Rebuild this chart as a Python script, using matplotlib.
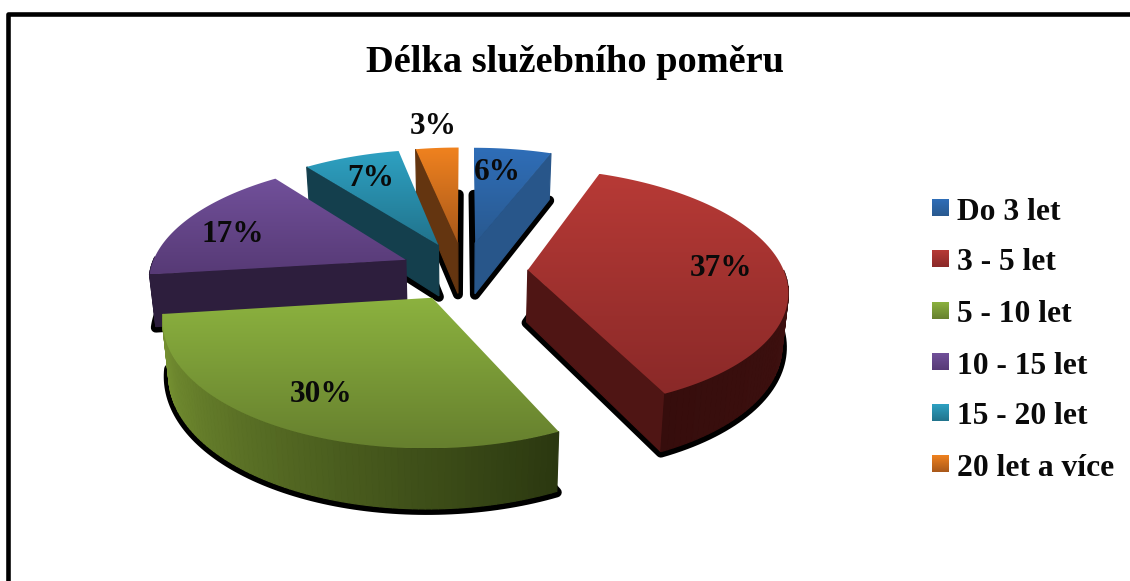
import numpy as np
import matplotlib
matplotlib.use("Agg")
import matplotlib.pyplot as plt
from matplotlib.colors import to_rgb
from matplotlib.patches import Polygon

plt.rcParams['font.family'] = ['Liberation Serif', 'DejaVu Serif']

# data
categories = ["Do 3 let", "3 - 5 let", "5 - 10 let", "10 - 15 let", "15 - 20 let", "20 let a více"]
values = [5.8, 37.2, 30, 16.6, 7.2, 3.2]
title = "Délka služebního poměru"

# colours: top gradient start/end, radial wall, rim wall start/end
TOP_HI = ["#2f6eb8", "#b73a36", "#8cb23f", "#71509a", "#2ea1c2", "#f0821f"]
TOP_LO = ["#29598f", "#8a2928", "#66802e", "#573a76", "#21738c", "#a8581a"]
WALL = ["#28568a", "#4f1514", "#2b3810", "#2d1e3d", "#143f4d", "#643510"]
RIM_A = ["#28568a", "#4a1514", "#2b3810", "#2d1e3d", "#143f4d", "#643510"]
RIM_B = ["#28568a", "#360d0c", "#7d9a35", "#2d1e3d", "#143f4d", "#643510"]

# projection of the exploded pie to pixels
CX, CY = 464, 271
A, B, C, K = 256, 118, 52, 0.155
EXPLODE = 0.25
SHADOW_PX = 5


def project(x, y, bottom=0):
    w = 1 / (1 + K * y)
    s = 1 - 0.02 * bottom
    return CX + A * x * w * s, CY - B * y * w * s + C * w * bottom


fig = plt.figure(figsize=(11.3, 5.81), dpi=100)
ax = fig.add_axes([0, 0, 1, 1])

ends = np.cumsum(values) / np.sum(values) * 2 * np.pi
starts = np.r_[0, ends[:-1]]


def gradient(poly, hi, lo, z):
    xs, ys = poly[:, 0], poly[:, 1]
    t = np.linspace(0, 1, 128)[:, None, None]
    img = np.array(to_rgb(hi))[None, None, :] * (1 - t) + np.array(to_rgb(lo))[None, None, :] * t
    im = ax.imshow(img, extent=(xs.min(), xs.max(), ys.max(), ys.min()), aspect="auto",
                   interpolation="bilinear", zorder=z)
    clip = Polygon(poly, closed=True, transform=ax.transData, fc="none", ec="none")
    ax.add_patch(clip)
    im.set_clip_path(clip)


# back slices first
order = [5, 0, 4, 3, 1, 2]
z = 2
for i in order:
    a0, a1 = starts[i], ends[i]
    mid = (a0 + a1) / 2
    ox, oy = EXPLODE * np.sin(mid), EXPLODE * np.cos(mid)
    th = np.linspace(a0, a1, 90)
    rx, ry = ox + np.sin(th), oy + np.cos(th)

    top = np.array([project(ox, oy)] + list(zip(*project(rx, ry))))
    bot = np.array([project(ox, oy, 1)] + list(zip(*project(rx, ry, 1))))

    # drop shadow, black stroke around the bottom face
    ax.add_patch(Polygon(bot + [0, 1], closed=True, fc="black", ec="black",
                         lw=SHADOW_PX * 2 * 0.72, joinstyle="round", zorder=z))
    z += 1

    # only walls facing the viewer, far to near
    walls = []
    if np.sin(a0) < -1e-6:
        walls.append((oy + np.cos(a0) / 2, [top[0], top[1], bot[1], bot[0]], to_rgb(WALL[i])))
    if np.sin(a1) > 1e-6:
        walls.append((oy + np.cos(a1) / 2, [top[0], top[-1], bot[-1], bot[0]], to_rgb(WALL[i])))
    for j in range(1, len(top) - 1):
        if np.cos(th[j - 1]) > 0.02:
            continue
        quad = [top[j], top[j + 1], bot[j + 1], bot[j]]
        f = (j - 1) / (len(top) - 2)
        c = np.array(to_rgb(RIM_A[i])) * (1 - f) + np.array(to_rgb(RIM_B[i])) * f
        walls.append((ry[j - 1], quad, tuple(c)))
    walls.sort(key=lambda w: -w[0])
    for _, quad, c in walls:
        ax.add_patch(Polygon(quad, closed=True, fc=c, ec=c, lw=0.9, zorder=z))
        z += 1

    gradient(top, TOP_HI[i], TOP_LO[i], z)
    z += 2

# percent labels
label_x = [497, 721, 321, 233, 371, 433]
label_y = [173, 268, 394, 235, 179, 127]
for v, lx, ly in zip(values, label_x, label_y):
    ax.text(lx, ly, f"{v:.0f}%", fontsize=22.5, fontweight="bold", color="#0a0a0a",
            ha="center", va="center", zorder=z + 1)

# legend
leg_y = [207.5, 258.5, 310.5, 361.5, 412.5, 463.5]
for i, (name, ly) in enumerate(zip(categories, leg_y)):
    box = np.array([[932, ly - 8.5], [949, ly - 8.5], [949, ly + 8.5], [932, ly + 8.5]])
    gradient(box, TOP_HI[i], TOP_LO[i], z)
    ax.text(957, ly + 12, name, fontsize=22.7, fontweight="bold", color="#0a0a0a",
            ha="left", va="baseline", zorder=z + 1)

ax.text(575, 63, title, fontsize=27.6, fontweight="bold", color="black",
        ha="center", va="center", zorder=z + 1)

# frame, cut by the image edge at right and bottom
ax.plot([7.8, 7.8, 1140], [600, 14.4, 14.4], color="black", lw=3.3,
        solid_joinstyle="round", zorder=z + 1)

ax.set_xlim(0, 1130)
ax.set_ylim(581, 0)
ax.axis("off")
fig.savefig("out.png", dpi=100, facecolor="white")
